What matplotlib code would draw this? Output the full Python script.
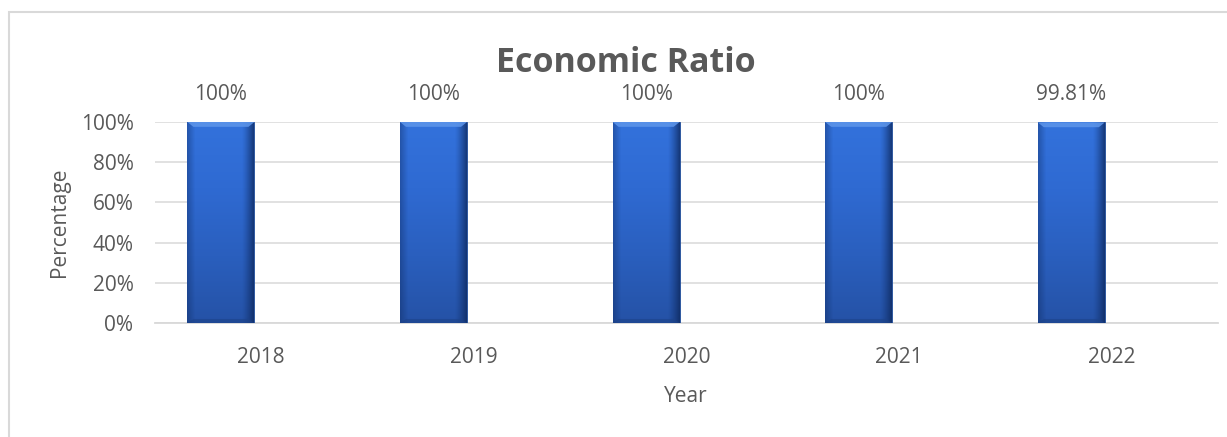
import numpy as np
import matplotlib
matplotlib.use("Agg")
import matplotlib.pyplot as plt
from matplotlib.patches import Rectangle, Polygon
from matplotlib.colors import LinearSegmentedColormap
from matplotlib.ticker import PercentFormatter

years = ["2018", "2019", "2020", "2021", "2022"]
ratio = [100, 100, 100, 100, 99.81]
labels = ["100%", "100%", "100%", "100%", "99.81%"]

plt.rcParams["font.family"] = ["Open Sans", "DejaVu Sans"]
grey = "#595959"
W, H = 1227, 437

fig = plt.figure(figsize=(W / 100, H / 100), dpi=100)
# chart frame (only left and top edges show)
fig.patches.append(Rectangle((9 / W, -0.5), 2.0, 1.5 - 12 / H,
                             transform=fig.transFigure, fill=False,
                             edgecolor="#D9D9D9", linewidth=1.5))

ax = fig.add_axes([155 / W, 1 - 323 / H, 1063 / W, 201 / H])
x = np.arange(len(years))
off = -0.19
w = 0.315

bars = ax.bar(x + off, ratio, width=w, color="#2E69CF",
              edgecolor="#1F4A94", linewidth=0.6, zorder=3)

# gradient / bevel look
vgrad = np.linspace(0, 1, 256).reshape(-1, 1)
vcmap = LinearSegmentedColormap.from_list("b", ["#2552A6", "#2A5FBE", "#2F6AD2", "#3372DC"])
t = np.linspace(0, 1, 128)
side = np.where(t < 0.5, np.clip((0.12 - t) / 0.12, 0, 1) * 0.5,
                np.clip((t - 0.82) / 0.18, 0, 1) ** 1.3)
scmap = LinearSegmentedColormap.from_list("s", [(0.05, 0.15, 0.35, 0.0), (0.05, 0.15, 0.35, 0.75)])
for b in bars:
    x0, y0 = b.get_x(), b.get_y()
    bw, bh = b.get_width(), b.get_height()
    im = ax.imshow(vgrad, extent=[x0, x0 + bw, y0, y0 + bh], origin="lower",
                   cmap=vcmap, aspect="auto", zorder=3.1)
    im.set_clip_path(b)
    sh = ax.imshow(side.reshape(1, -1), extent=[x0, x0 + bw, y0, y0 + bh],
                   cmap=scmap, vmin=0, vmax=1, aspect="auto", zorder=3.2)
    sh.set_clip_path(b)
    d = 0.028
    top = y0 + bh
    ax.add_patch(Polygon([(x0, top), (x0 + bw, top), (x0 + bw - d, top - 2.4), (x0 + d, top - 2.4)],
                         closed=True, facecolor="#5E96EA", edgecolor="none", alpha=0.85, zorder=3.3))
    ax.add_patch(Polygon([(x0, y0), (x0 + bw, y0), (x0 + bw - d, y0 + 2.0), (x0 + d, y0 + 2.0)],
                         closed=True, facecolor="#1C4288", edgecolor="none", alpha=0.6, zorder=3.3))

for xi, v, s in zip(x + off, ratio, labels):
    ax.annotate(s, (xi, 100), xytext=(0, 19.5), textcoords="offset points",
                ha="center", va="center", fontsize=15, color=grey)

ax.set_xlim(-0.5, 4.5)
ax.set_ylim(0, 100)
ax.set_yticks([0, 20, 40, 60, 80, 100])
ax.yaxis.set_major_formatter(PercentFormatter(decimals=0))
ax.set_xticks(x)
ax.set_xticklabels(years)
ax.tick_params(axis="both", length=0, labelsize=15, colors=grey)
ax.tick_params(axis="x", pad=17)
ax.tick_params(axis="y", pad=15.5)
ax.grid(axis="y", color="#D9D9D9", linewidth=1.1, zorder=0)
for sp in ["top", "right", "left"]:
    ax.spines[sp].set_visible(False)
ax.spines["bottom"].set_color("#D9D9D9")
ax.spines["bottom"].set_linewidth(1.3)
ax.set_axisbelow(True)

fig.text(686 / W, 1 - 397 / H, "Year", ha="center", va="center", fontsize=15, color=grey)
fig.text(60 / W, 1 - 222 / H, "Percentage", ha="center", va="center",
         rotation=90, fontsize=15, color=grey)
fig.text(626 / W, 1 - 63 / H, "Economic Ratio", ha="center", va="center",
         fontsize=24.5, fontweight="bold", color=grey)

fig.savefig("out.png", dpi=100)
